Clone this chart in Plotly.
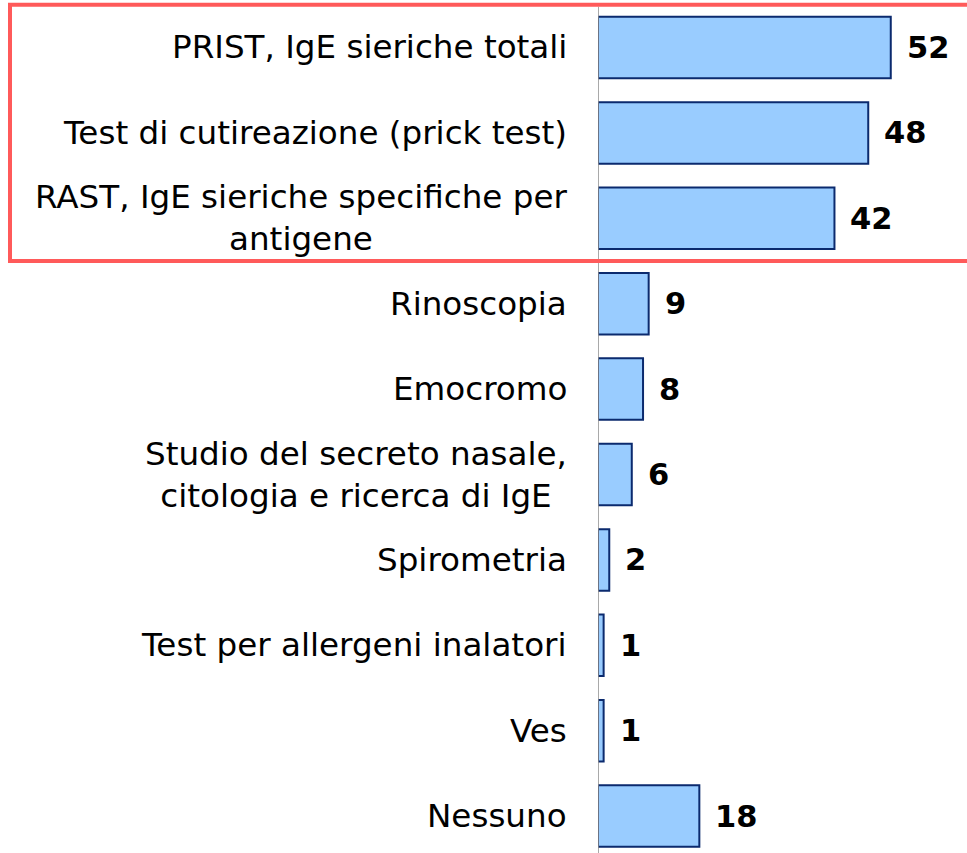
import plotly.graph_objects as go

categories = [
    "PRIST, IgE sieriche totali",
    "Test di cutireazione (prick test)",
    "RAST, IgE sieriche specifiche per<br>antigene",
    "Rinoscopia",
    "Emocromo",
    "Studio del secreto nasale,<br>citologia e ricerca di IgE",
    "Spirometria",
    "Test per allergeni inalatori",
    "Ves",
    "Nessuno",
]
values = [52, 48, 42, 9, 8, 6, 2, 1, 1, 18]
highlighted = [0, 1, 2]

W, H = 967, 853
ypos = list(range(len(categories)))

fig = go.Figure()
fig.add_trace(go.Bar(
    x=values, y=ypos, orientation="h",
    marker=dict(color="#99CCFF", line=dict(color="#0B2A6E", width=2)),
    hoverinfo="skip",
))

label_font = dict(family="DejaVu Sans, Verdana, sans-serif", size=32.6, color="#000000")
value_font = dict(family="DejaVu Sans, Verdana, sans-serif", size=30.5, color="#000000")

annotations = []
for i, (c, v) in enumerate(zip(categories, values)):
    annotations.append(dict(
        x=0, y=i, xref="x", yref="y", text=c, showarrow=False,
        xanchor="right", yanchor="middle", align="center", xshift=-29,
        font=label_font,
    ))
    annotations.append(dict(
        x=v, y=i, xref="x", yref="y", text="<b>%d</b>" % v, showarrow=False,
        xanchor="left", yanchor="middle", xshift=14,
        font=value_font,
    ))

shapes = [
    dict(type="line", xref="x", yref="paper", x0=0, x1=0, y0=0, y1=0.992,
         line=dict(color="#8C8C8C", width=1.5), layer="above"),
    dict(type="rect", xref="paper", yref="y",
         x0=(10 - 598) / (W - 598), x1=(980 - 598) / (W - 598),
         y0=min(highlighted) - 0.5, y1=max(highlighted) + 0.5,
         line=dict(color="#FF5A5A", width=4), fillcolor="rgba(0,0,0,0)", layer="above"),
]

fig.update_layout(
    width=W, height=H,
    margin=dict(l=598, r=0, t=0, b=0),
    paper_bgcolor="white", plot_bgcolor="white",
    bargap=0.28,
    showlegend=False,
    xaxis=dict(range=[0, (W - 598) / 5.63], visible=False, fixedrange=True),
    yaxis=dict(range=[9.432, -0.556], visible=False, fixedrange=True),
    annotations=annotations,
    shapes=shapes,
)

fig.write_html(
    "out.html",
    config={"displayModeBar": False},
    post_script="document.body.style.margin='0';document.body.style.overflow='hidden';",
)
